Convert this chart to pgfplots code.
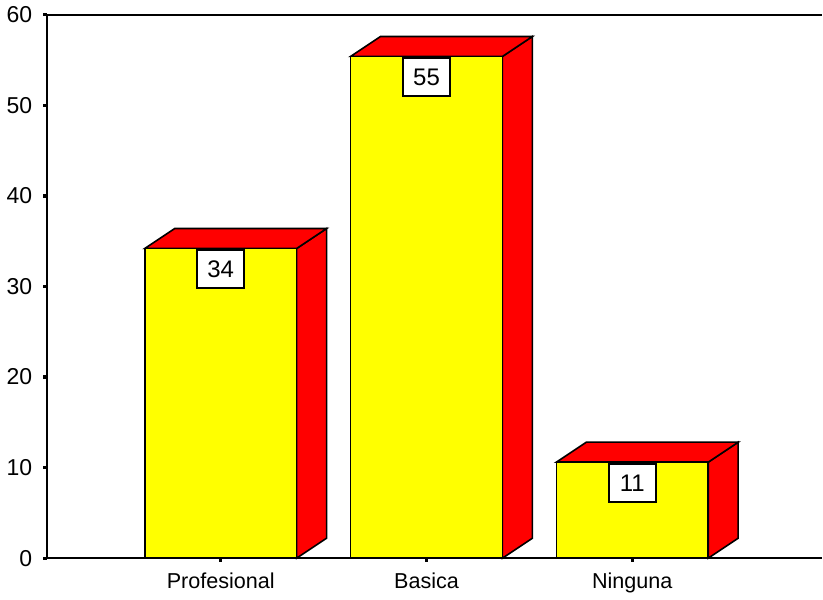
\documentclass[border=0pt]{standalone}
\usepackage{fontspec}
\setmainfont{Liberation Sans}
\usepackage{pgfplots}
\pgfplotsset{compat=1.18}

\definecolor{barface}{RGB}{255,255,0}
\definecolor{barside}{RGB}{255,0,0}

\begin{document}
\begin{tikzpicture}
\begin{axis}[
    scale only axis,
    width=388pt, height=272pt,
    xmin=0.155, xmax=3.922,
    ymin=0, ymax=60,
    axis x line*=bottom,
    axis y line*=left,
    axis line style={line width=1pt, black},
    xtick={1,2,3},
    xticklabels={Profesional, Basica, Ninguna},
    ytick={0,10,...,60},
    tick align=outside,
    major tick length=1.8pt,
    every tick/.style={line width=1.6pt, black},
    xtick style={line width=1.6pt, black},
    ytick style={line width=1.6pt, black},
    /pgf/number format/assume math mode=true,
    yticklabel style={xshift=-2pt, font=\fontsize{11.5}{13}\selectfont},
    xticklabel style={yshift=-2pt, font=\fontsize{10.8}{13}\selectfont},
    clip=false,
]
% red sides
\addplot[fill=barside, draw=black, line width=0.8pt] coordinates
  {(1.369,0) (1.5146,2.206) (1.5146,36.406) (1.369,34.2)} -- cycle;
\addplot[fill=barside, draw=black, line width=0.8pt] coordinates
  {(2.369,0) (2.5146,2.206) (2.5146,57.606) (2.369,55.4)} -- cycle;
\addplot[fill=barside, draw=black, line width=0.8pt] coordinates
  {(3.369,0) (3.5146,2.206) (3.5146,12.806) (3.369,10.6)} -- cycle;
% red tops
\addplot[fill=barside, draw=black, line width=0.8pt] coordinates
  {(0.631,34.2) (1.369,34.2) (1.5146,36.406) (0.7766,36.406)} -- cycle;
\addplot[fill=barside, draw=black, line width=0.8pt] coordinates
  {(1.631,55.4) (2.369,55.4) (2.5146,57.606) (1.7766,57.606)} -- cycle;
\addplot[fill=barside, draw=black, line width=0.8pt] coordinates
  {(2.631,10.6) (3.369,10.6) (3.5146,12.806) (2.7766,12.806)} -- cycle;
% yellow fronts with value boxes
\addplot[ybar, bar width=0.738, fill=barface, draw=black, line width=0.8pt,
    point meta=explicit symbolic,
    nodes near coords,
    every node near coord/.append style={anchor=north, draw=black, fill=white,
        line width=0.8pt, minimum width=23.5pt, minimum height=19pt,
        inner sep=0pt, yshift=-0.4pt, font=\fontsize{12}{14}\selectfont}]
  coordinates {(1,34.2)[34] (2,55.4)[55] (3,10.6)[11]};
% top frame line
\draw[line width=1pt, black] (rel axis cs:0,1) -- (rel axis cs:1,1);
\end{axis}
\end{tikzpicture}
\end{document}
